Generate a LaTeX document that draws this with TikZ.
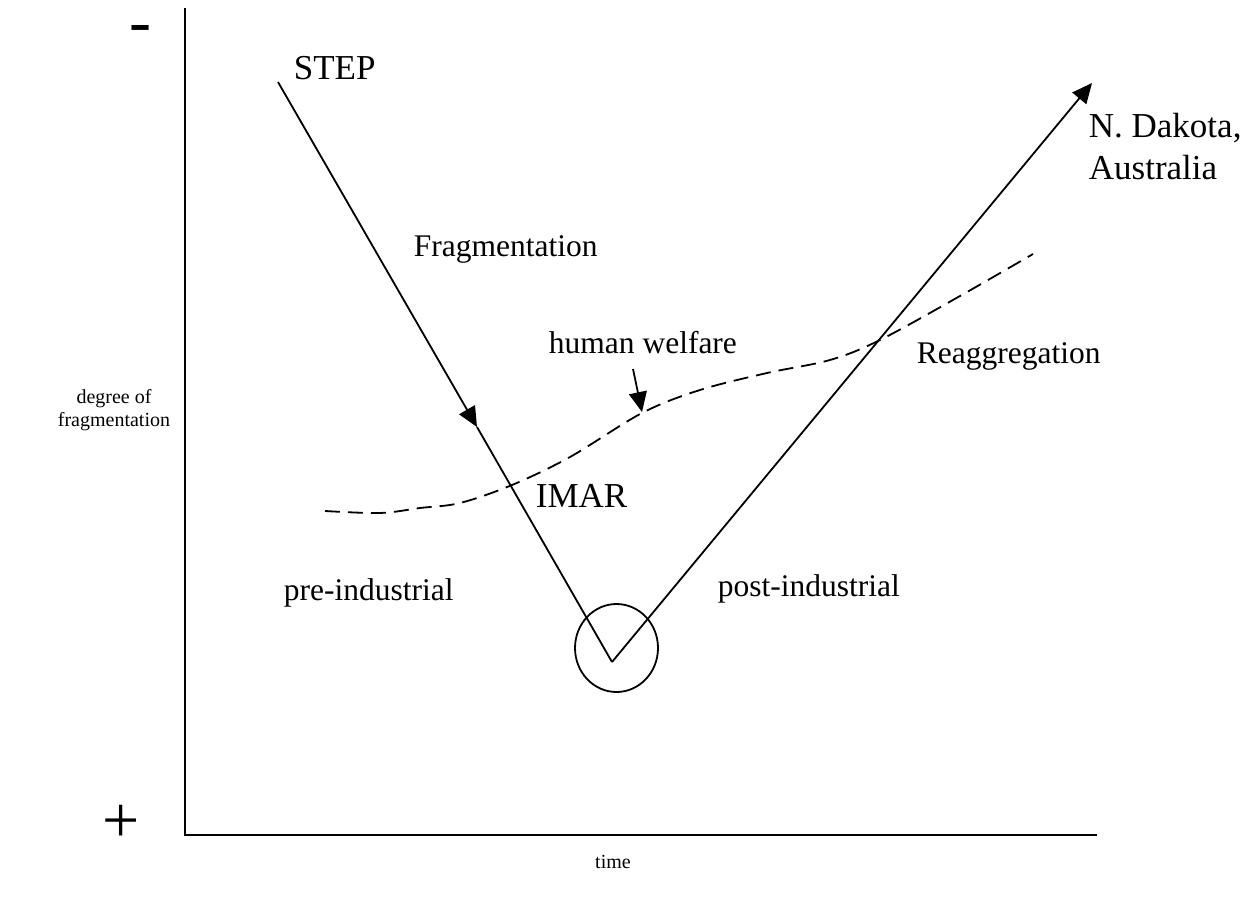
\documentclass[tikz,border=0pt]{standalone}
\usepackage{fontspec}
\setmainfont{Liberation Serif}
\usetikzlibrary{arrows.meta,shapes.geometric}
\begin{document}
\begin{tikzpicture}[x=1pt,y=-1pt,
  line width=1.8pt,
  axis/.style={line width=2pt},
  tip/.style={-{Triangle[length=20pt,width=18pt]}},
  welfare/.style={dash pattern=on 15pt off 8pt, line width=1.8pt},
  biglabel/.style={font=\fontsize{35}{42}\selectfont, inner sep=0pt, anchor=base west, align=left},
  label/.style={font=\fontsize{31.5}{38}\selectfont, inner sep=0pt, anchor=base west},
  small/.style={font=\fontsize{20}{23}\selectfont, inner sep=0pt, align=center},
  sign/.style={font=\fontsize{66}{70}\selectfont, inner sep=0pt, anchor=base, text depth=0pt}]
\useasboundingbox (0,0) rectangle (1260,912);

% axes
\coordinate (ytop) at (185,8);
\coordinate (origin) at (185,835);
\coordinate (xend) at (1097,835);
\draw[axis] (ytop) -- (origin) -- (xend);

% axis signs and titles
\node[sign, text height=0.3em] (minus) at (140.5,43.5) {-};
\node[sign, text height=0.6em] (plus) at (121,842) {+};
\node[small] (ytitle) at (114,410) {degree of\\fragmentation};
\node[small] (xtitle) at (613,862) {time};

% fragmentation path down to the turning point, then reaggregation up
\coordinate (stepstart) at (278,82);
\coordinate (midtip) at (477,427);
\coordinate (vtx) at (612,662);
\coordinate (ndtip) at (1092,83);
\draw[tip] (stepstart) -- (midtip);
\draw (midtip) -- (vtx);
\draw[tip] (vtx) -- (ndtip);

% circle around the turning point
\node[draw, ellipse, minimum width=83pt, minimum height=88pt, inner sep=0pt, line width=1.8pt] (turn) at (616.5,648) {};

% human welfare curve
\draw[welfare] plot[smooth, tension=0.55] coordinates {
  (325,511) (380,513) (420,508) (460,503) (512,485) (570,457) (642,413)
  (700,390) (767,373) (830,360) (880,340) (960,296) (1033,254)};
\coordinate (hwtail) at (633,369);
\coordinate (hwtip) at (642,412);
\draw[tip] (hwtail) -- (hwtip);

% labels
\node[biglabel] (step) at (293,80) {STEP};
\node[label] (frag) at (413,256) {Fragmentation};
\node[label] (hw) at (548,353) {human welfare};
\node[biglabel] (imar) at (535,507) {IMAR};
\node[label] (reagg) at (916,363) {Reaggregation};
\node[label] (pre) at (283,600) {pre-industrial};
\node[label] (post) at (717,596) {post-industrial};
\node[biglabel] (nd) at (1088,180) {N. Dakota,\\Australia};
\end{tikzpicture}
\end{document}
